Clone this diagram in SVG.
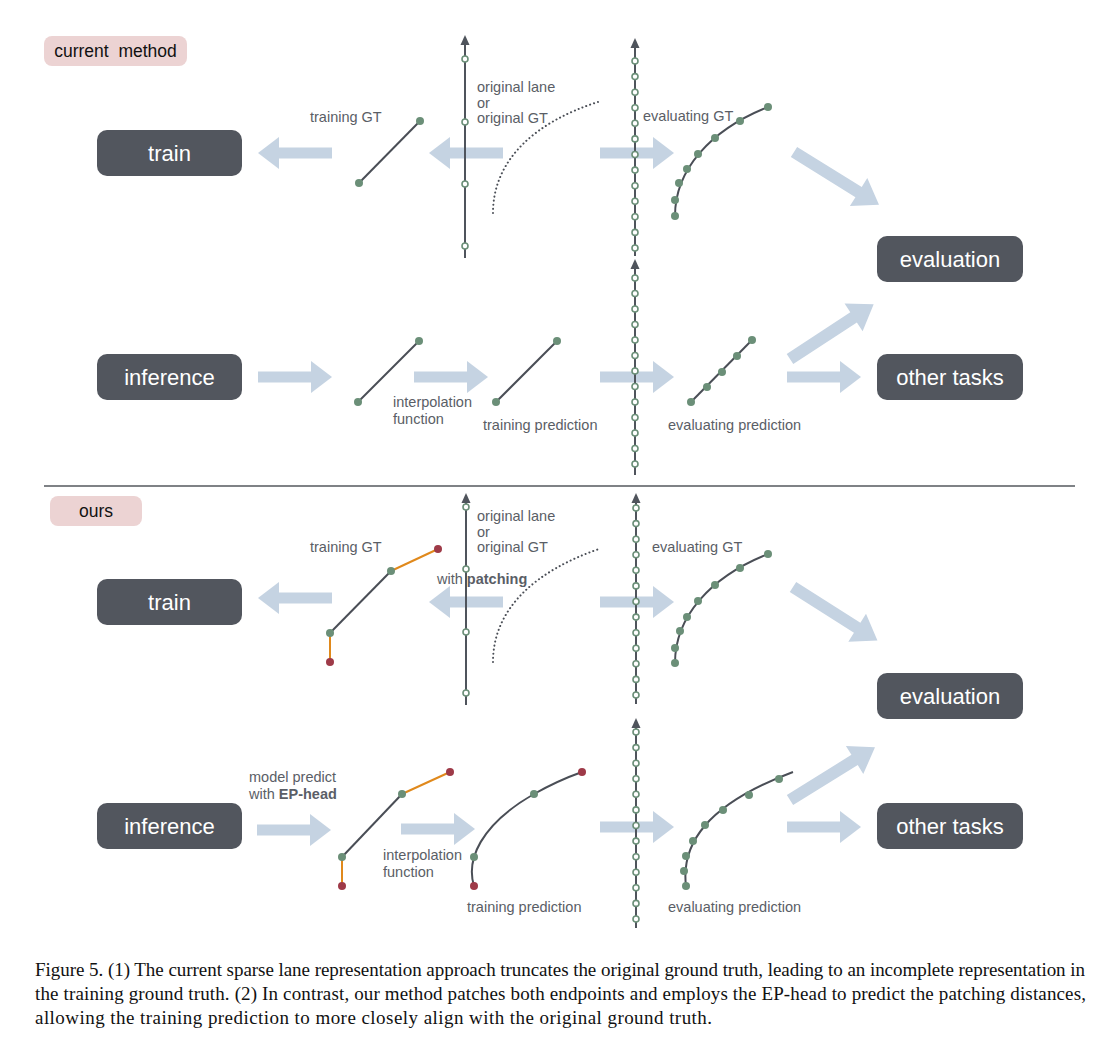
<svg xmlns="http://www.w3.org/2000/svg" xmlns:xlink="http://www.w3.org/1999/xlink" width="1112" height="1044" viewBox="0 0 1112 1044">
<style>
.node rect{fill:#52565e}
.node text{font-family:"Liberation Sans",Arial,sans-serif;font-size:22px;fill:#ffffff;text-anchor:middle}
.tag rect{fill:#ecd3d3}
.tag text{font-family:"Liberation Sans",Arial,sans-serif;font-size:17.5px;fill:#111111;text-anchor:middle}
.lbl{font-family:"Liberation Sans",Arial,sans-serif;font-size:14.5px;fill:#5a5e66}
.blk{fill:none;stroke:#4a4e56;stroke-width:2}
.axis{fill:none;stroke:#4f545c;stroke-width:2}
.ahead{fill:#4f545c}
.dot{fill:none;stroke:#4a4e56;stroke-width:2;stroke-linecap:round;stroke-dasharray:0.1 4}
.org{fill:none;stroke:#e0891c;stroke-width:2}
.g{fill:#6b8f78}
.r{fill:#9e3a48}
.hc{fill:#ffffff;stroke:#6b8f78;stroke-width:1.6}
.cap{font-family:"Liberation Serif","Times New Roman",serif;font-size:19px;fill:#111111}
.arw{fill:#c5d3e2}
</style>
<defs>
<path id="arr" d="M0,-5.5 H53 V-16 L74,0 L53,16 V5.5 H0 Z"/>
<path id="darr" d="M0,-6 H76 V-16.5 L100,0 L76,16.5 V6 H0 Z"/>
<circle id="hc" r="3" class="hc"/>
<path id="ah" d="M0,0 L-4.5,10 L4.5,10 Z" class="ahead"/>
</defs>
<rect width="1112" height="1044" fill="#ffffff"/>

<g id="tag-current" class="tag"><rect x="44" y="36" width="143" height="30" rx="8"/><text x="115.5" y="57" xml:space="preserve">current&#160; method</text></g>
<g id="tag-ours" class="tag"><rect x="50" y="496" width="92" height="30" rx="8"/><text x="96" y="517">ours</text></g>

<g id="node-train-1" class="node"><rect x="97" y="130" width="145" height="46" rx="10"/><text x="169.5" y="160.5">train</text></g>
<g id="node-inference-1" class="node"><rect x="97" y="354" width="145" height="46" rx="10"/><text x="169.5" y="384.5">inference</text></g>
<g id="node-evaluation-1" class="node"><rect x="877" y="236" width="146" height="46" rx="10"/><text x="950" y="266.5">evaluation</text></g>
<g id="node-other-1" class="node"><rect x="877" y="354" width="146" height="46" rx="10"/><text x="950" y="384.5">other tasks</text></g>
<g id="node-train-2" class="node"><rect x="97" y="579" width="145" height="46" rx="10"/><text x="169.5" y="609.5">train</text></g>
<g id="node-inference-2" class="node"><rect x="97" y="803" width="145" height="46" rx="10"/><text x="169.5" y="833.5">inference</text></g>
<g id="node-evaluation-2" class="node"><rect x="877" y="673" width="146" height="46" rx="10"/><text x="950" y="703.5">evaluation</text></g>
<g id="node-other-2" class="node"><rect x="877" y="803" width="146" height="46" rx="10"/><text x="950" y="833.5">other tasks</text></g>

<g id="connectors" class="arw">
<use xlink:href="#arr" transform="translate(332,153) rotate(180)"/>
<use xlink:href="#arr" transform="translate(503,153) rotate(180)"/>
<use xlink:href="#arr" transform="translate(600,153)"/>
<use xlink:href="#arr" transform="translate(258,377)"/>
<use xlink:href="#arr" transform="translate(414,377)"/>
<use xlink:href="#arr" transform="translate(600,377)"/>
<use xlink:href="#arr" transform="translate(787,377)"/>
<use xlink:href="#darr" transform="translate(794,152) rotate(31.8)"/>
<use xlink:href="#darr" transform="translate(790,359) rotate(-33.2)"/>
<use xlink:href="#arr" transform="translate(332,598) rotate(180)"/>
<use xlink:href="#arr" transform="translate(503,602) rotate(180)"/>
<use xlink:href="#arr" transform="translate(600,602)"/>
<use xlink:href="#arr" transform="translate(257,830)"/>
<use xlink:href="#arr" transform="translate(401,829)"/>
<use xlink:href="#arr" transform="translate(600,827)"/>
<use xlink:href="#arr" transform="translate(787,827)"/>
<use xlink:href="#darr" transform="translate(793,587) rotate(32.4)"/>
<use xlink:href="#darr" transform="translate(790,800) rotate(-31.8)"/>
</g>

<g id="axis-1-top">
<line class="axis" x1="465" y1="42" x2="465" y2="258"/>
<use xlink:href="#ah" x="465" y="35"/>
<use xlink:href="#hc" x="465" y="59"/><use xlink:href="#hc" x="465" y="122"/><use xlink:href="#hc" x="465" y="184"/><use xlink:href="#hc" x="465" y="246"/>
</g>
<g id="axis-2-top">
<line class="axis" x1="635" y1="45" x2="635" y2="256"/>
<use xlink:href="#ah" x="635" y="38"/>
<line class="axis" x1="635" y1="266" x2="635" y2="475"/>
<use xlink:href="#ah" x="635" y="259"/>
<use xlink:href="#hc" x="635" y="61"/><use xlink:href="#hc" x="635" y="76.6"/><use xlink:href="#hc" x="635" y="92.2"/><use xlink:href="#hc" x="635" y="107.8"/><use xlink:href="#hc" x="635" y="123.3"/><use xlink:href="#hc" x="635" y="138.9"/><use xlink:href="#hc" x="635" y="154.5"/><use xlink:href="#hc" x="635" y="170.1"/><use xlink:href="#hc" x="635" y="185.7"/><use xlink:href="#hc" x="635" y="201.3"/><use xlink:href="#hc" x="635" y="216.8"/><use xlink:href="#hc" x="635" y="232.4"/><use xlink:href="#hc" x="635" y="248"/>
<use xlink:href="#hc" x="635" y="278"/><use xlink:href="#hc" x="635" y="293.5"/><use xlink:href="#hc" x="635" y="309"/><use xlink:href="#hc" x="635" y="324.5"/><use xlink:href="#hc" x="635" y="340"/><use xlink:href="#hc" x="635" y="355.5"/><use xlink:href="#hc" x="635" y="371"/><use xlink:href="#hc" x="635" y="386.5"/><use xlink:href="#hc" x="635" y="402"/><use xlink:href="#hc" x="635" y="417.5"/><use xlink:href="#hc" x="635" y="433"/><use xlink:href="#hc" x="635" y="448.5"/><use xlink:href="#hc" x="635" y="464"/>
</g>
<g id="lane-train-gt-1">
<line class="blk" x1="359" y1="183" x2="420" y2="121"/>
<circle class="g" cx="359" cy="183" r="4"/><circle class="g" cx="420" cy="121" r="4"/>
</g>
<path id="dotted-1" class="dot" d="M493,213 C493,160 535,122 598,102"/>
<g id="lane-eval-gt-1">
<path class="blk" d="M675,216 C675,170 710,130 768,107"/>
<circle class="g" cx="675" cy="216" r="4"/><circle class="g" cx="675" cy="200" r="4"/><circle class="g" cx="679" cy="183" r="4"/><circle class="g" cx="687" cy="169" r="4"/><circle class="g" cx="698" cy="154" r="4"/><circle class="g" cx="715" cy="138" r="4"/><circle class="g" cx="740" cy="121" r="4"/><circle class="g" cx="768" cy="107" r="4"/>
</g>
<g id="lane-infer-1">
<line class="blk" x1="358" y1="402" x2="419" y2="341"/>
<circle class="g" cx="358" cy="402" r="4"/><circle class="g" cx="419" cy="341" r="4"/>
</g>
<g id="lane-train-pred-1">
<line class="blk" x1="496" y1="402" x2="557" y2="341"/>
<circle class="g" cx="496" cy="402" r="4"/><circle class="g" cx="557" cy="341" r="4"/>
</g>
<g id="lane-eval-pred-1">
<line class="blk" x1="691" y1="402" x2="752" y2="340"/>
<circle class="g" cx="691" cy="402" r="4"/><circle class="g" cx="707" cy="387" r="4"/><circle class="g" cx="722" cy="372" r="4"/><circle class="g" cx="737" cy="356" r="4"/><circle class="g" cx="752" cy="340" r="4"/>
</g>

<g id="labels-top" class="lbl">
<text x="310" y="122">training GT</text>
<text x="477" y="92">original lane</text>
<text x="477" y="108">or</text>
<text x="477" y="123">original GT</text>
<text x="643" y="121">evaluating GT</text>
<text x="393" y="407">interpolation</text>
<text x="393" y="424">function</text>
<text x="483" y="430">training prediction</text>
<text x="668" y="430">evaluating prediction</text>
</g>

<line id="divider" x1="44" y1="486" x2="1075" y2="486" stroke="#55585e" stroke-width="1.5"/>

<g id="axis-1-bottom">
<line class="axis" x1="466" y1="500" x2="466" y2="705"/>
<use xlink:href="#ah" x="466" y="493"/>
<use xlink:href="#hc" x="466" y="507"/><use xlink:href="#hc" x="466" y="569"/><use xlink:href="#hc" x="466" y="632"/><use xlink:href="#hc" x="466" y="693"/>
</g>
<g id="axis-2-bottom">
<line class="axis" x1="636" y1="500" x2="636" y2="704"/>
<use xlink:href="#ah" x="636" y="493"/>
<line class="axis" x1="636" y1="725" x2="636" y2="928"/>
<use xlink:href="#ah" x="636" y="718"/>
<use xlink:href="#hc" x="636" y="508"/><use xlink:href="#hc" x="636" y="523.6"/><use xlink:href="#hc" x="636" y="539.2"/><use xlink:href="#hc" x="636" y="554.8"/><use xlink:href="#hc" x="636" y="570.3"/><use xlink:href="#hc" x="636" y="585.9"/><use xlink:href="#hc" x="636" y="601.5"/><use xlink:href="#hc" x="636" y="617.1"/><use xlink:href="#hc" x="636" y="632.7"/><use xlink:href="#hc" x="636" y="648.3"/><use xlink:href="#hc" x="636" y="663.8"/><use xlink:href="#hc" x="636" y="679.4"/><use xlink:href="#hc" x="636" y="695"/>
<use xlink:href="#hc" x="636" y="732"/><use xlink:href="#hc" x="636" y="747.6"/><use xlink:href="#hc" x="636" y="763.2"/><use xlink:href="#hc" x="636" y="778.8"/><use xlink:href="#hc" x="636" y="794.3"/><use xlink:href="#hc" x="636" y="809.9"/><use xlink:href="#hc" x="636" y="825.5"/><use xlink:href="#hc" x="636" y="841.1"/><use xlink:href="#hc" x="636" y="856.7"/><use xlink:href="#hc" x="636" y="872.3"/><use xlink:href="#hc" x="636" y="887.8"/><use xlink:href="#hc" x="636" y="903.4"/><use xlink:href="#hc" x="636" y="919"/>
</g>
<g id="lane-train-gt-2">
<line class="blk" x1="391" y1="571" x2="330" y2="633"/>
<line class="org" x1="391" y1="571" x2="438" y2="549"/>
<line class="org" x1="330" y1="633" x2="330" y2="662"/>
<circle class="r" cx="438" cy="549" r="4"/><circle class="g" cx="391" cy="571" r="4"/><circle class="g" cx="330" cy="633" r="4"/><circle class="r" cx="330" cy="662" r="4"/>
</g>
<path id="dotted-2" class="dot" d="M493,662 C493,609 535,571 599,549"/>
<g id="lane-eval-gt-2">
<path class="blk" d="M675,663 C675,617 710,577 768,554"/>
<circle class="g" cx="675" cy="663" r="4"/><circle class="g" cx="675" cy="648" r="4"/><circle class="g" cx="680" cy="631" r="4"/><circle class="g" cx="687" cy="617" r="4"/><circle class="g" cx="698" cy="601" r="4"/><circle class="g" cx="715" cy="585" r="4"/><circle class="g" cx="740" cy="568" r="4"/><circle class="g" cx="768" cy="554" r="4"/>
</g>
<g id="lane-infer-2">
<line class="blk" x1="402" y1="794" x2="342" y2="857"/>
<line class="org" x1="402" y1="794" x2="450" y2="772"/>
<line class="org" x1="342" y1="857" x2="342" y2="886"/>
<circle class="r" cx="450" cy="772" r="4"/><circle class="g" cx="402" cy="794" r="4"/><circle class="g" cx="342" cy="857" r="4"/><circle class="r" cx="342" cy="886" r="4"/>
</g>
<g id="lane-train-pred-2">
<path class="blk" d="M474,886 C466,860 480,825 534,794 C550,785 565,778 582,772"/>
<circle class="r" cx="474" cy="886" r="4"/><circle class="g" cx="474" cy="857" r="4"/><circle class="g" cx="534" cy="794" r="4"/><circle class="r" cx="582" cy="772" r="4"/>
</g>
<g id="lane-eval-pred-2">
<path class="blk" d="M686,886 C681,845 705,805 793,772"/>
<circle class="g" cx="686" cy="886" r="4"/><circle class="g" cx="684" cy="871" r="4"/><circle class="g" cx="686" cy="856" r="4"/><circle class="g" cx="693" cy="841" r="4"/><circle class="g" cx="705" cy="825" r="4"/><circle class="g" cx="723" cy="810" r="4"/><circle class="g" cx="749" cy="795" r="4"/><circle class="g" cx="779" cy="779" r="4"/>
</g>

<g id="labels-bottom" class="lbl">
<text x="310" y="552">training GT</text>
<text x="477" y="521">original lane</text>
<text x="477" y="537">or</text>
<text x="477" y="552">original GT</text>
<text x="437" y="584">with <tspan font-weight="bold">patching</tspan></text>
<text x="652" y="552">evaluating GT</text>
<text x="249" y="782">model predict</text>
<text x="249" y="799">with <tspan font-weight="bold">EP-head</tspan></text>
<text x="383" y="860">interpolation</text>
<text x="383" y="877">function</text>
<text x="467" y="912">training prediction</text>
<text x="668" y="912">evaluating prediction</text>
</g>

<g id="caption" class="cap">
<text x="35" y="976" textLength="1050" lengthAdjust="spacing">Figure 5. (1) The current sparse lane representation approach truncates the original ground truth, leading to an incomplete representation in</text>
<text x="35" y="1000" textLength="1051" lengthAdjust="spacing">the training ground truth. (2) In contrast, our method patches both endpoints and employs the EP-head to predict the patching distances,</text>
<text x="35" y="1024" textLength="677" lengthAdjust="spacing">allowing the training prediction to more closely align with the original ground truth.</text>
</g>
</svg>
